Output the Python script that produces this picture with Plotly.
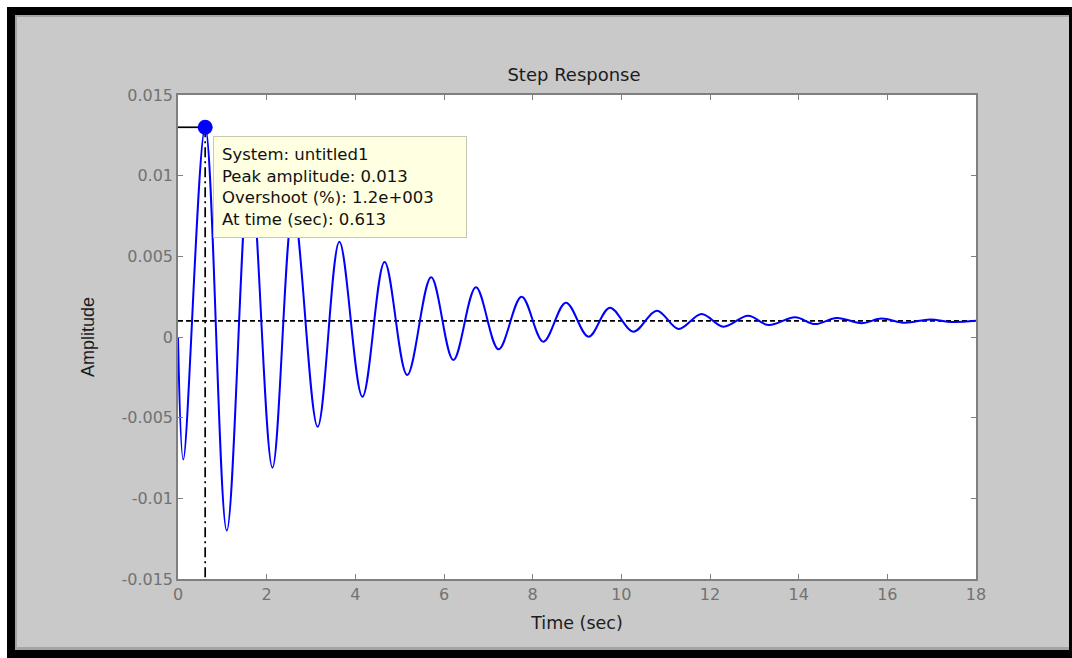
import plotly.graph_objects as go

# ---- data ----
time_sec = [0, 0.12, 0.613, 1.10, 1.62, 2.13, 2.60, 3.15, 3.64, 4.16, 4.66, 5.17,
            5.71, 6.21, 6.72, 7.23, 7.75, 8.24, 8.75, 9.26, 9.74, 10.27, 10.80,
            11.29, 11.81, 12.30, 12.86, 13.32, 13.92, 14.37, 14.86, 15.42, 15.87,
            16.40, 16.96, 17.45, 18.0]
amplitude = [0, -0.0076, 0.0130, -0.0120, 0.0108, -0.0081, 0.0080, -0.00556, 0.0059,
             -0.0037, 0.00465, -0.00236, 0.0037, -0.00143, 0.00308, -0.00076, 0.0025,
             -0.00029, 0.00213, 0.00002, 0.00182, 0.00033, 0.00163, 0.0005, 0.00143,
             0.00064, 0.00132, 0.00074, 0.00122, 0.0008, 0.00118, 0.00086, 0.00114,
             0.00088, 0.00109, 0.00093, 0.001]
peak_time = 0.613
peak_amp = 0.013
final_value = 0.001
x_ticks = [0, 2, 4, 6, 8, 10, 12, 14, 16, 18]
y_ticks = [-0.015, -0.01, -0.005, 0, 0.005, 0.01, 0.015]
y_tick_text = ["-0.015", "-0.01", "-0.005", "0", "0.005", "0.01", "0.015"]
x_range = [0, 18]
y_range = [-0.015, 0.015]
tooltip_lines = ["System: untitled1", "Peak amplitude: 0.013",
                 "Overshoot (%): 1.2e+003", "At time (sec): 0.613"]

# ---- layout geometry (pixels) ----
WIDTH, HEIGHT = 1072, 658
L, R, T, B = 178, 976, 95, 579
PW, PH = R - L, B - T


def px(x):
    return (x - L) / PW


def py(y):
    return (B - y) / PH


FONT = "DejaVu Sans, Verdana, sans-serif"
FONT_V = "Liberation Sans, Arial, Helvetica, sans-serif"
TICK_COLOR = "#727272"
AXIS_COLOR = "#7f7f7f"
TEXT_COLOR = "#1c1c1c"

fig = go.Figure()

# steady-state line
fig.add_trace(go.Scatter(x=x_range, y=[final_value, final_value], mode="lines",
                         line=dict(color="black", width=1.7, dash="5px,3px"),
                         hoverinfo="skip", showlegend=False))
# step response
fig.add_trace(go.Scatter(x=time_sec, y=amplitude, mode="lines",
                         line=dict(color="#0000ff", width=2, shape="spline", smoothing=1.0),
                         showlegend=False, name="untitled1"))
# peak indicator lines
fig.add_trace(go.Scatter(x=[peak_time, peak_time], y=[peak_amp, y_range[0]], mode="lines",
                         line=dict(color="black", width=1.7, dash="10px,4px,2px,4px"),
                         hoverinfo="skip", showlegend=False))
fig.add_trace(go.Scatter(x=[x_range[0], peak_time], y=[peak_amp, peak_amp], mode="lines",
                         line=dict(color="black", width=1.7),
                         hoverinfo="skip", showlegend=False))
# peak marker
fig.add_trace(go.Scatter(x=[peak_time], y=[peak_amp], mode="markers",
                         marker=dict(color="#0000ff", size=15),
                         showlegend=False))

shapes = []


def rect(x0, y0, x1, y1, color):
    shapes.append(dict(type="rect", xref="paper", yref="paper",
                       x0=px(x0), x1=px(x1), y0=py(y1), y1=py(y0),
                       fillcolor=color, line=dict(width=0), layer="above"))


# white outer margin
rect(0, 0, 7, HEIGHT, "white")
rect(0, 0, WIDTH, 7, "white")
# thin darker inner line
rect(15, 15, 17, 650, "#a4a4a4")
rect(15, 15, 1069, 17, "#a4a4a4")
rect(15, 647, 1069, 650, "#a4a4a4")
# black frame
rect(7, 7, 15, HEIGHT, "black")
rect(7, 7, WIDTH, 15, "black")
rect(1069, 7, WIDTH, HEIGHT, "black")
rect(7, 650, WIDTH, HEIGHT, "black")

annotations = [
    dict(xref="paper", yref="paper", x=px(213), y=py(136), xanchor="left", yanchor="top",
         text="<br>".join(tooltip_lines), showarrow=False, align="left", valign="middle",
         width=236, height=84, borderpad=8,
         bgcolor="#ffffe1", bordercolor="#c8c8b0", borderwidth=1,
         font=dict(family=FONT, size=16.5, color="#111111")),
]

fig.update_layout(
    width=WIDTH, height=HEIGHT,
    margin=dict(l=L, r=WIDTH - R, t=T, b=HEIGHT - B, pad=0),
    paper_bgcolor="#c9c9c9", plot_bgcolor="white",
    font=dict(family=FONT),
    title=dict(text="Step Response", x=574 / WIDTH, xref="container", xanchor="center",
               y=1 - 75 / HEIGHT, yref="container", yanchor="middle",
               font=dict(family=FONT, size=18, color=TEXT_COLOR)),
    shapes=shapes, annotations=annotations,
    hovermode="closest",
)
fig.update_xaxes(range=x_range, tickvals=x_ticks, ticks="inside", ticklen=5,
                 tickcolor=AXIS_COLOR, showline=True, linecolor=AXIS_COLOR, linewidth=1.5,
                 mirror="ticks", showgrid=False, zeroline=False,
                 tickfont=dict(family=FONT, size=16, color=TICK_COLOR),
                 title=dict(text="Time (sec)", standoff=14,
                            font=dict(family=FONT, size=17.5, color=TEXT_COLOR)))
fig.update_yaxes(range=y_range, tickvals=y_ticks, ticktext=y_tick_text, ticks="inside",
                 ticklen=5, tickcolor=AXIS_COLOR, showline=True, linecolor=AXIS_COLOR,
                 linewidth=1.5, mirror="ticks", showgrid=False, zeroline=False,
                 tickfont=dict(family=FONT, size=16, color=TICK_COLOR),
                 title=dict(text="Amplitude", standoff=22,
                            font=dict(family=FONT_V, size=18, color=TEXT_COLOR)))

fig.write_html("out.html")
